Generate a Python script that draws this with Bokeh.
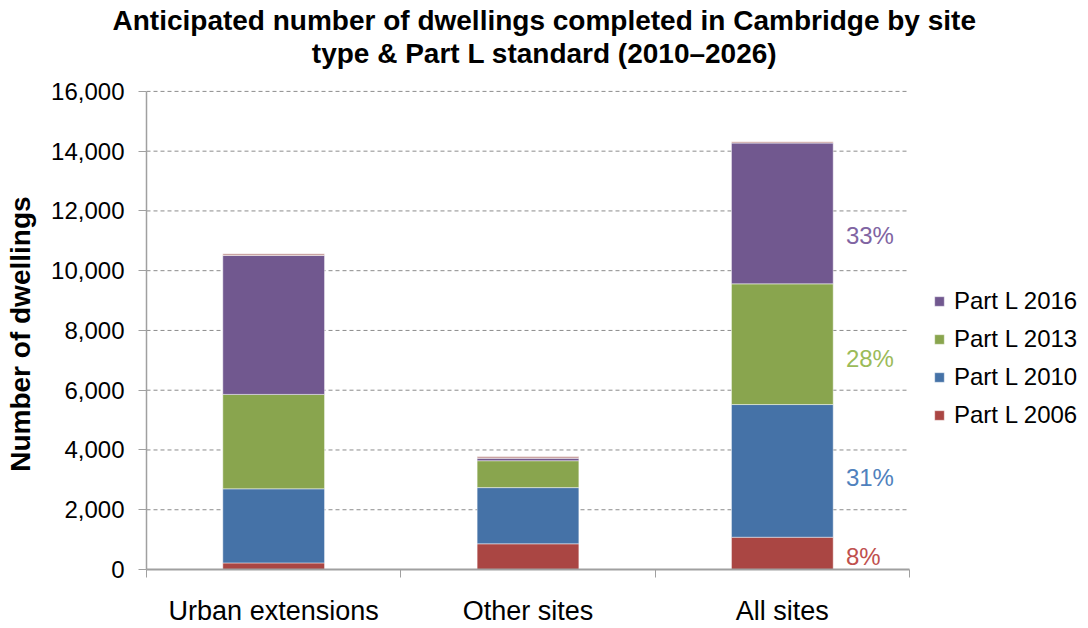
from bokeh.plotting import figure
from bokeh.models import (ColumnDataSource, FixedTicker, Legend, LegendItem,
                          NumeralTickFormatter, Range1d)
from bokeh.embed import file_html
from bokeh.resources import INLINE
from bokeh.core.properties import value

# Dwellings completed by site type and Part L standard
categories = ["Urban extensions", "Other sites", "All sites"]
part_l_2006 = [220, 860, 1080]
part_l_2010 = [2480, 1880, 4440]
part_l_2013 = [3160, 900, 4040]
part_l_2016 = [4650, 80, 4710]
other_standard = [60, 60, 45]

y_ticks = [0, 2000, 4000, 6000, 8000, 10000, 12000, 14000, 16000]
y_max = 16000

series = ["part_l_2006", "part_l_2010", "part_l_2013", "part_l_2016", "other_standard"]
series_names = ["Part L 2006", "Part L 2010", "Part L 2013", "Part L 2016", ""]
bar_colors = ["#AA4643", "#4572A7", "#89A54E", "#71588F", "#C69C9A"]
label_colors = ["#C0504D", "#4F81BD", "#9BBB59", "#8064A2"]
label_nudge = [3, 7, 14, 22]  # pixel shifts of the share labels

title_lines = ["Anticipated number of dwellings completed in Cambridge by site",
               "type & Part L standard (2010\u20132026)"]
y_title = "Number of dwellings"

FONT = "Liberation Sans"
W, H = 1088, 628
LEFT, BOTTOM, TOP = 146, 58, 36
AXIS_TOP = 91                          # pixel row of the highest gridline
N = len(categories)
plot_right = 909                       # where the category axis ends
unit = (plot_right - LEFT) / N         # pixels per category slot
x_end = (W - LEFT) / unit              # frame runs on to the canvas edge for the legend
px_per_val = (H - BOTTOM - AXIS_TOP) / y_max
y_end = (H - BOTTOM - TOP) / px_per_val   # headroom above the axis holds the second title line

xs = [i + 0.5 for i in range(N)]
src = ColumnDataSource(dict(x=xs, part_l_2006=part_l_2006, part_l_2010=part_l_2010,
                            part_l_2013=part_l_2013, part_l_2016=part_l_2016,
                            other_standard=other_standard))

p = figure(width=W, height=H, x_range=Range1d(0, x_end), y_range=Range1d(0, y_end),
           output_backend="svg", toolbar_location=None,
           min_border_left=LEFT, min_border_right=0, min_border_top=TOP,
           min_border_bottom=BOTTOM)
p.outline_line_color = None
p.background_fill_color = "white"
p.border_fill_color = "white"
p.xgrid.grid_line_color = None
p.ygrid.grid_line_color = None

# dashed horizontal gridlines spanning the category area only
p.segment(x0=[0] * (len(y_ticks) - 1), x1=[N] * (len(y_ticks) - 1), y0=y_ticks[1:],
          y1=y_ticks[1:], line_color="#8C8C8C", line_dash="4 3", line_width=1)

renderers = p.vbar_stack(series, x="x", width=0.4, color=bar_colors, source=src,
                         line_color="white", line_alpha=0.45, line_width=1)

# Share labels beside the "All sites" bar
all_idx = 2
all_vals = [part_l_2006[all_idx], part_l_2010[all_idx], part_l_2013[all_idx], part_l_2016[all_idx]]
total = all_vals[0] + all_vals[1] + all_vals[2] + all_vals[3] + other_standard[all_idx]
mids, bottom = [], 0
for v in all_vals:
    mids.append(bottom + v / 2)
    bottom += v
pct = [f"{round(100 * v / total)}%" for v in all_vals]
lab_src = ColumnDataSource(dict(x=[xs[all_idx] + 0.25] * 4, y=mids, t=pct,
                                c=label_colors, dy=label_nudge))
p.text(x="x", y="y", text="t", text_color="c", source=lab_src, y_offset="dy",
       text_font=value(FONT), text_font_size="24px", text_align="left",
       text_baseline="middle")

# Title: first line as the plot title, second line in the headroom, both centred on the canvas
p.title.text = title_lines[0]
p.title.align = "left"
p.title.offset = -34
p.title.text_font = FONT
p.title.text_font_size = "28px"
p.title.text_font_style = "bold"
p.title.text_color = "black"
p.title.standoff = 2
p.text(x=[(W / 2 - LEFT) / unit], y=[(H - BOTTOM - 53) / px_per_val], text=[title_lines[1]],
       text_font=value(FONT), text_font_size="28px", text_font_style="bold",
       text_color="black", text_align="center", text_baseline="middle")

# Y axis
ya = p.yaxis[0]
ya.bounds = (0, y_max)
ya.ticker = FixedTicker(ticks=y_ticks, minor_ticks=[])
ya.formatter = NumeralTickFormatter(format="0,0")
# trailing no-break spaces lower the label so it sits centred on the 0-16,000 span
ya.axis_label = y_title + "\u00a0" * 8
ya.axis_label_text_font = FONT
ya.axis_label_text_font_size = "28px"
ya.axis_label_text_font_style = "bold"
ya.axis_label_text_color = "black"
ya.axis_label_standoff = 12
ya.major_label_text_font = FONT
ya.major_label_text_font_size = "24px"
ya.major_label_text_color = "black"
ya.major_label_standoff = 14
ya.axis_line_color = "#A0A0A0"
ya.axis_line_width = 1.5
ya.major_tick_line_color = "#A0A0A0"
ya.major_tick_out = 8
ya.major_tick_in = 0

# X axis: category names at centres, ticks at boundaries
xa = p.xaxis[0]
xa.bounds = (0, N)
xa.ticker = FixedTicker(ticks=xs, minor_ticks=list(range(N + 1)))
xa.major_label_overrides = {x: c for x, c in zip(xs, categories)}
xa.major_label_text_font = FONT
xa.major_label_text_font_size = "27px"
xa.major_label_text_color = "black"
xa.major_label_standoff = 18
xa.major_tick_out = 0
xa.major_tick_in = 0
xa.minor_tick_out = 8
xa.minor_tick_in = 0
xa.minor_tick_line_color = "#A0A0A0"
xa.axis_line_color = "#A0A0A0"
xa.axis_line_width = 2

# Legend, newest standard first
order = [3, 2, 1, 0]
legend = Legend(items=[LegendItem(label=series_names[i], renderers=[renderers[i]]) for i in order],
                location=(787, 140), glyph_width=12, glyph_height=12, label_standoff=9,
                label_text_font=FONT, label_text_font_size="24px", label_text_color="black",
                spacing=10, padding=5, margin=0, border_line_color=None,
                background_fill_alpha=0)
p.add_layout(legend)

open("out.html", "w").write(file_html(p, INLINE))
